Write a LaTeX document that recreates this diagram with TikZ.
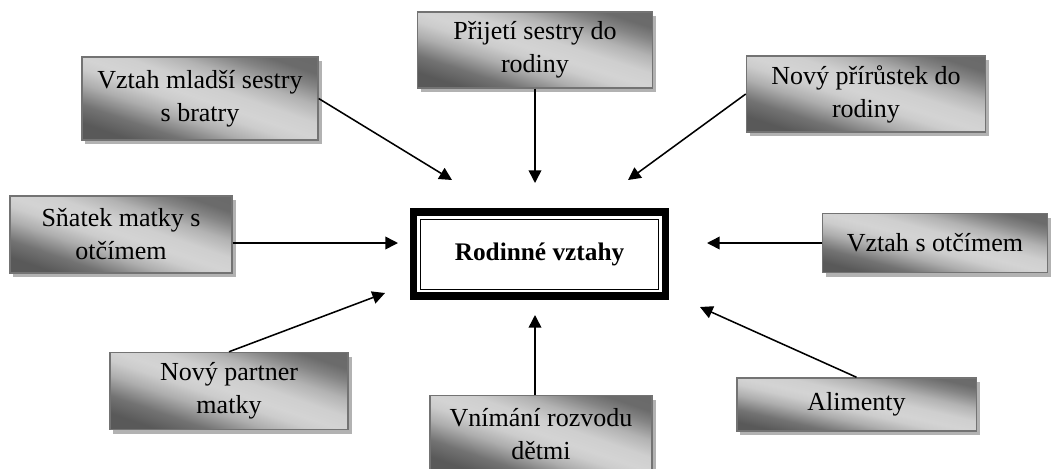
\documentclass[tikz,border=0pt]{standalone}
\usepackage{fontspec}
\setmainfont{Liberation Serif}
\usetikzlibrary{arrows.meta,shadows}
\pgfdeclarehorizontalshading{boxshade}{100bp}{color(0bp)=(black!66); color(25bp)=(black!65); color(32bp)=(black!55); color(40bp)=(black!32); color(46bp)=(black!20); color(50bp)=(black!17); color(56bp)=(black!19); color(63bp)=(black!30); color(70bp)=(black!48); color(75bp)=(black!58); color(100bp)=(black!60)}

\begin{document}
\begin{tikzpicture}[x=0.025cm,y=-0.025cm]
	\tikzstyle{box}=[draw=black!55,line width=0.9pt,shading=boxshade,shading angle=71,
		drop shadow={shadow xshift=2.5pt,shadow yshift=-3pt,fill=black!30,opacity=1},
		align=center,inner sep=2pt,font=\fontsize{18.5}{23.5}\selectfont]
	\tikzstyle{centre}=[draw=black,line width=0.7pt,fill=white,minimum width=5.93cm,minimum height=1.75cm,font=\fontsize{18}{20}\selectfont\bfseries]
	\tikzstyle{arrow}=[line width=1.1pt,-{Triangle[length=9pt,width=9pt]}]
	\useasboundingbox (0,0) rectangle (1051,468);
	\node[centre] (0) at (539.5,254) {Rodinné vztahy};
	\draw[line width=5pt] ([shift={(-6.5,-6.5)}]0.north west) rectangle ([shift={(6.5,6.5)}]0.south east);
	\node[box,minimum width=5.9cm,minimum height=2.08cm] (1) at (200,98.5) {Vztah mladší sestry\\ s bratry};
	\node[box,minimum width=5.88cm,minimum height=1.9cm,shading angle=72] (2) at (535,50) {Přijetí sestry do\\ rodiny};
	\node[box,minimum width=5.98cm,minimum height=1.9cm,shading angle=72] (3) at (866,94) {Nový přírůstek do\\ rodiny};
	\node[box,minimum width=5.55cm,minimum height=1.93cm] (4) at (121,234.5) {Sňatek matky s\\ otčímem};
	\node[box,minimum width=5.63cm,minimum height=1.48cm,shading angle=75] (5) at (935,243) {Vztah s otčímem};
	\node[box,minimum width=5.95cm,minimum height=1.93cm] (6) at (229,391) {Nový partner\\ matky};
	\node[box,minimum width=5.55cm,minimum height=1.93cm] (7) at (541,434) {Vnímání rozvodu\\ dětmi};
	\node[box,minimum width=5.98cm,minimum height=1.33cm,shading angle=77] (8) at (856.5,404.5) {Alimenty};
	\coordinate (t1) at (452,180);
	\coordinate (t2) at (535,183);
	\coordinate (t3) at (628,180);
	\coordinate (t4) at (398,243);
	\coordinate (t5) at (707,243);
	\coordinate (t6) at (385,293);
	\coordinate (t7) at (535,315);
	\coordinate (t8) at (700,307);
	\draw[arrow] (1.east) -- (t1);
	\draw[arrow] (2.south) -- (t2);
	\draw[arrow] (3.west) -- (t3);
	\draw[arrow] (4.east |- t4) -- (t4);
	\draw[arrow] (5.west) -- (t5);
	\draw[arrow] (6.north) -- (t6);
	\draw[arrow] (7.north -| t7) -- (t7);
	\draw[arrow] (8.north) -- (t8);
\end{tikzpicture}
\end{document}
